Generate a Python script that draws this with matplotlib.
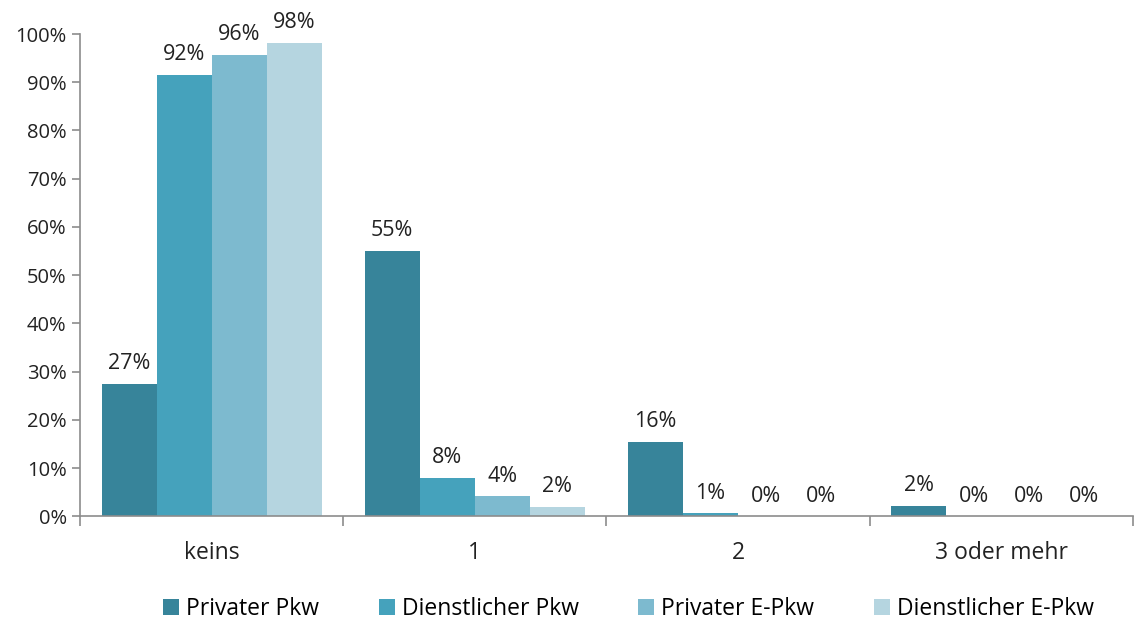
import numpy as np
import matplotlib.pyplot as plt

plt.rcParams['font.family'] = ['Open Sans', 'DejaVu Sans']

categories = ['keins', '1', '2', '3 oder mehr']
series_names = ['Privater Pkw', 'Dienstlicher Pkw', 'Privater E-Pkw', 'Dienstlicher E-Pkw']
privat_pkw = [27.5, 55.0, 15.5, 2.2]
dienst_pkw = [91.6, 7.9, 0.6, 0.0]
privat_epkw = [95.7, 4.1, 0.0, 0.0]
dienst_epkw = [98.2, 1.9, 0.0, 0.0]
labels = [
    ['27%', '55%', '16%', '2%'],
    ['92%', '8%', '1%', '0%'],
    ['96%', '4%', '0%', '0%'],
    ['98%', '2%', '0%', '0%'],
]
colors = ['#37849a', '#45a2bc', '#7dbacf', '#b5d5e0']

values = [privat_pkw, dienst_pkw, privat_epkw, dienst_epkw]

fig = plt.figure(figsize=(11.42, 6.19), dpi=100)
ax = fig.add_axes([0.070, 0.166, 0.922, 0.779])

x = np.arange(len(categories))
w = 0.209
for i, (vals, name, col) in enumerate(zip(values, series_names, colors)):
    pos = x + (i - 1.5) * w
    ax.bar(pos, vals, width=w, color=col, label=name, linewidth=0)
    for p, v, lab in zip(pos, vals, labels[i]):
        ax.annotate(lab, (p, v), xytext=(0, 7), textcoords='offset points',
                    ha='center', va='bottom', fontsize=15.5, color='#222222')

ax.set_xlim(-0.5, 3.5)
ax.set_ylim(0, 100)
ax.set_yticks(np.arange(0, 101, 10))
ax.set_yticklabels([f'{t}%' for t in range(0, 101, 10)])
ax.set_xticks(x)
ax.set_xticklabels(categories)
ax.set_xticks(np.arange(-0.5, 3.6, 1), minor=True)
ax.tick_params(axis='x', which='major', length=0, pad=18, labelsize=16.5, colors='#222222')
ax.tick_params(axis='x', which='minor', length=7, color='#8c8c8c', width=1.2)
ax.tick_params(axis='y', length=6, color='#8c8c8c', width=1.2, labelsize=14.5, labelcolor='#222222')

for pos in ('top', 'right'):
    ax.spines[pos].set_visible(False)
for pos in ('left', 'bottom'):
    ax.spines[pos].set_color('#8c8c8c')
    ax.spines[pos].set_linewidth(1.2)

ax.legend(loc='upper center', bbox_to_anchor=(0.521, -0.125), ncol=4, frameon=False,
          fontsize=16.5, handlelength=0.7, handleheight=0.7, handletextpad=0.3,
          columnspacing=2.6)

plt.savefig('out.png')
